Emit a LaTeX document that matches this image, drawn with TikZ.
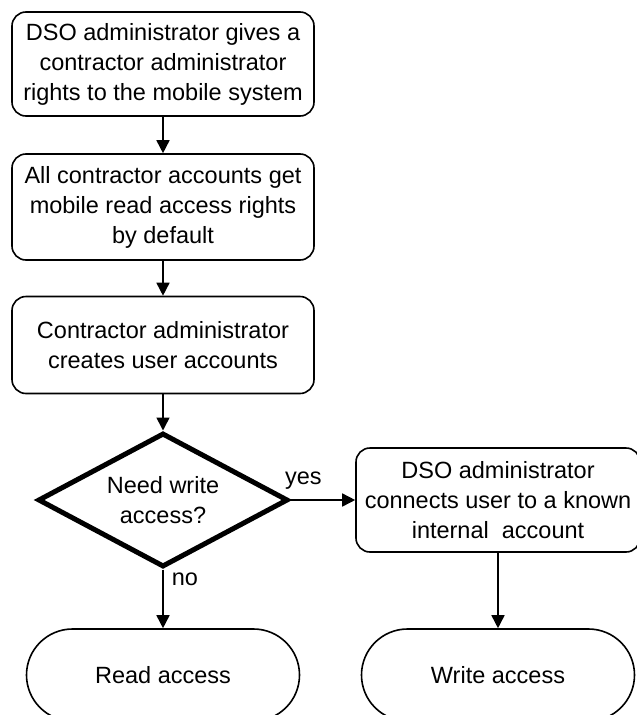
\documentclass[tikz,border=0pt]{standalone}
\usepackage{fontspec}
\setmainfont{Liberation Sans}
\usepackage{tikz}
\usetikzlibrary{arrows.meta, positioning, shapes.geometric}

\tikzset{
  procbox/.style={draw, line width=1.6pt, rounded corners=14pt, align=center,
    inner sep=0pt, font=\fontsize{23.5}{30}\selectfont},
  decision/.style={draw, diamond, shape aspect=1.85, line width=5pt, align=center, inner sep=0pt,
    minimum width=250pt, minimum height=134pt, font=\fontsize{23.5}{30}\selectfont},
  terminal/.style={draw, line width=1.6pt, rounded corners=46pt, inner sep=0pt,
    minimum width=273pt, minimum height=92pt, font=\fontsize{23.5}{30}\selectfont},
  flowarrow/.style={line width=1.6pt, -{Triangle[length=13pt,width=13pt]}},
  edgetext/.style={font=\fontsize{23.5}{30}\selectfont, inner sep=2pt}
}

\begin{document}
\begin{tikzpicture}[x=1pt,y=1pt]
  \useasboundingbox (0,0) rectangle (637,-715);

  % Main column
  \node[procbox, minimum width=302pt, minimum height=104pt] (dsoGives) at (163,-64)
    {DSO administrator gives a\\contractor administrator\\rights to the mobile system};
  \node[procbox, minimum width=302pt, minimum height=106pt] (defaultRead) at (163,-207)
    {All contractor accounts get\\mobile read access rights\\by default};
  \node[procbox, minimum width=302pt, minimum height=97pt] (createAcc) at (163,-345)
    {Contractor administrator\\creates user accounts};
  \node[decision] (needWrite) at (163,-500) {Need write\\access?};

  % Right branch
  \node[procbox, minimum width=284pt, minimum height=104pt] (connectInt) at (498,-500)
    {DSO administrator\\connects user to a known\\internal\ \ account};

  % End states
  \node[terminal] (readAcc) at (163,-675) {Read access};
  \node[terminal] (writeAcc) at (498,-675) {Write access};

  % Connectors
  \draw[flowarrow] (dsoGives) -- (defaultRead);
  \draw[flowarrow] (defaultRead) -- (createAcc);
  \draw[flowarrow] (createAcc) -- (needWrite);
  \draw[flowarrow] (needWrite.east) -- node[edgetext, pos=0.2, above=8pt] {yes} (connectInt.west);
  \draw[flowarrow] (needWrite.south) -- node[edgetext, pos=0.17, right=6pt] {no} (readAcc.north);
  \draw[flowarrow] (connectInt) -- (writeAcc);
\end{tikzpicture}
\end{document}
